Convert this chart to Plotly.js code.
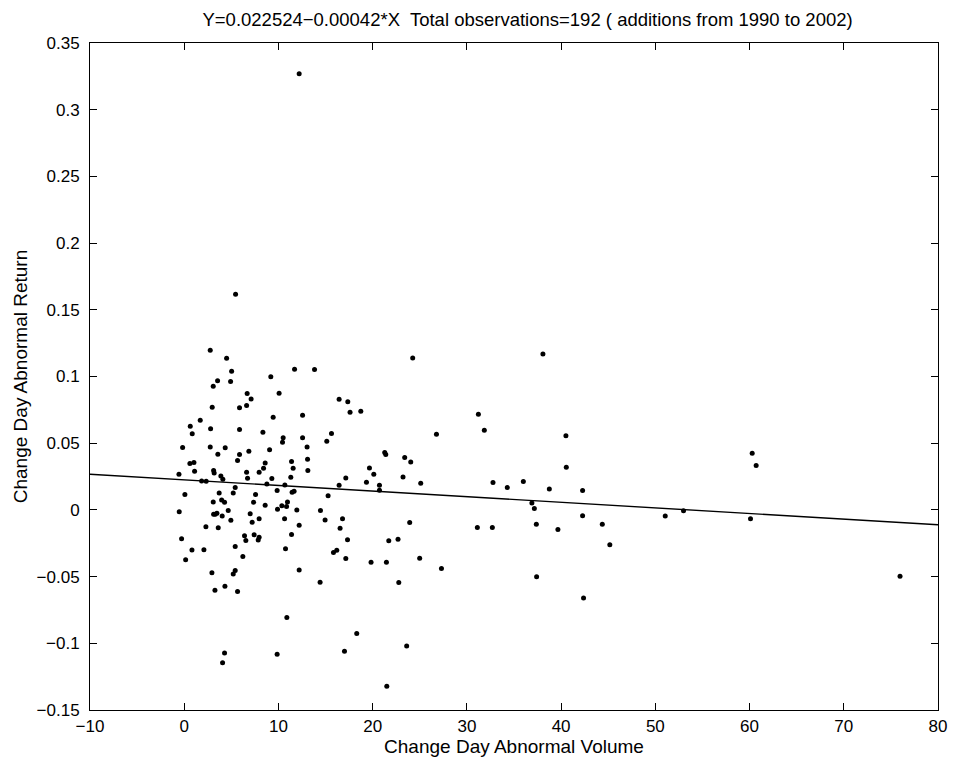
<!DOCTYPE html>
<html>
<head>
<meta charset="utf-8">
<script src="https://cdn.plot.ly/plotly-3.0.1.min.js"></script>
<style>html,body{margin:0;padding:0;background:#fff;}#chart{width:955px;height:765px;}</style>
</head>
<body>
<div id="chart"></div>
<script>
// Change Day Abnormal Volume (x) and Change Day Abnormal Return (y)
const volume = [
 5.45,2.76,4.50,5.03,3.54,4.92,3.08,9.19,6.68,7.10,10.07,2.97,5.87,6.62,
 9.44,1.70,0.64,0.85,2.80,5.87,8.35,-0.17,2.76,4.35,3.57,6.86,9.06,5.87,5.66,0.60,
 1.03,8.59,8.42,1.10,3.12,3.18,-0.56,6.62,7.95,3.89,4.10,6.72,9.30,1.85,2.33,8.77,
 5.41,9.86,0.07,3.71,5.20,7.57,3.97,4.28,3.08,7.36,8.59,-0.53,4.67,3.29,3.12,3.47,
 4.03,7.00,9.90,7.95,4.95,7.21,2.30,3.61,
 -0.28,0.82,2.09,0.15,5.41,6.40,6.54,7.42,7.95,7.85,6.22,2.94,5.20,5.41,4.32,3.26,
 5.66,4.28,4.07,9.86,
 11.71,13.83,16.44,17.36,
 12.56,17.60,18.74,10.50,10.43,12.56,15.63,15.13,13.04,21.28,21.39,11.39,13.09,11.56,
 13.12,19.66,20.12,11.31,17.15,19.34,10.68,16.44,20.72,20.72,11.45,11.66,15.27,10.96,
 10.36,10.86,11.95,14.46,10.65,14.95,16.80,12.20,16.54,
 11.39,17.33,21.71,22.69,10.75,15.84,16.19,17.15,19.83,21.46,12.20,14.42,22.77,10.89,
 18.31,17.01,21.50,
 24.25,38.07,31.22,31.85,26.77,40.51,40.55,23.40,24.04,23.22,25.10,32.77,34.29,35.99,
 38.75,42.28,36.90,37.16,42.28,23.93,31.11,32.70,37.37,39.66,44.37,45.17,24.99,27.30,
 37.40,23.61,42.38,
 60.28,60.70,51.05,52.99,60.10,75.97,
 12.2
];
const abnReturn = [
 0.1617,0.1197,0.1137,0.1040,0.0969,0.0962,0.0927,0.0999,0.0872,0.0832,0.0875,0.0770,0.0765,0.0782,
 0.0695,0.0672,0.0627,0.0570,0.0609,0.0602,0.0582,0.0467,0.0472,0.0465,0.0418,0.0440,0.0450,0.0415,0.0370,0.0347,
 0.0355,0.0352,0.0313,0.0290,0.0295,0.0277,0.0268,0.0283,0.0283,0.0255,0.0230,0.0238,0.0235,0.0217,0.0215,0.0195,
 0.0167,0.0145,0.0115,0.0127,0.0127,0.0115,0.0075,0.0058,0.0060,0.0058,0.0035,-0.0013,-0.0005,-0.0032,-0.0032,-0.0025,
 -0.0045,-0.0028,0.0005,-0.0067,-0.0077,-0.0092,-0.0127,-0.0133,
 -0.0217,-0.0300,-0.0298,-0.0373,-0.0275,-0.0193,-0.0230,-0.0187,-0.0205,-0.0225,-0.0350,-0.0472,-0.0480,-0.0455,-0.0572,-0.0602,
 -0.0612,-0.1072,-0.1145,-0.1082,
 0.1055,0.1052,0.0830,0.0810,
 0.0710,0.0732,0.0740,0.0540,0.0507,0.0540,0.0572,0.0515,0.0472,0.0430,0.0415,0.0362,0.0380,0.0313,
 0.0295,0.0315,0.0268,0.0245,0.0240,0.0208,0.0187,0.0185,0.0185,0.0148,0.0133,0.0140,0.0107,0.0060,
 0.0032,0.0025,0.0000,-0.0005,-0.0067,-0.0075,-0.0067,-0.0115,-0.0137,
 -0.0185,-0.0223,-0.0232,-0.0220,-0.0292,-0.0320,-0.0302,-0.0365,-0.0392,-0.0392,-0.0450,-0.0542,-0.0545,-0.0807,
 -0.0927,-0.1059,-0.1322,
 0.1139,0.1169,0.0717,0.0597,0.0567,0.0555,0.0320,0.0392,0.0360,0.0247,0.0200,0.0205,0.0167,0.0212,
 0.0157,0.0145,0.0052,0.0010,-0.0043,-0.0095,-0.0132,-0.0132,-0.0107,-0.0147,-0.0107,-0.0262,-0.0362,-0.0440,
 -0.0502,-0.1020,-0.0660,
 0.0425,0.0332,-0.0045,-0.0007,-0.0067,-0.0497,
 0.3270
];
// Fitted line end points as drawn
const fitX = [-10, 80];
const fitY = [0.0267, -0.0111];

const titleText = 'Y=0.022524\u22120.00042*X  Total observations=192 ( additions from 1990 to 2002)';
const xTitle = 'Change Day Abnormal Volume';
const yTitle = 'Change Day Abnormal Return';
const xTicks = [-10,0,10,20,30,40,50,60,70,80];
const yTicks = [-0.15,-0.1,-0.05,0,0.05,0.1,0.15,0.2,0.25,0.3,0.35];
const yTickText = ['\u22120.15','\u22120.1','\u22120.05','0','0.05','0.1','0.15','0.2','0.25','0.3','0.35'];
const xTickText = ['\u221210','0','10','20','30','40','50','60','70','80'];

const font = 'Liberation Sans, Arial, sans-serif';

const traces = [
  {x: volume, y: abnReturn, mode: 'markers', type: 'scatter',
   marker: {color: '#000', size: 5}, hoverinfo: 'x+y', showlegend: false},
  {x: fitX, y: fitY, mode: 'lines', type: 'scatter',
   line: {color: '#000', width: 1.4}, showlegend: false}
];

const axisCommon = {
  showgrid: false, zeroline: false, showline: true, linecolor: '#000', linewidth: 1,
  mirror: 'ticks', ticks: 'inside', ticklen: 7, tickcolor: '#000', tickwidth: 1,
  tickfont: {family: font, size: 17, color: '#000'}
};

const layout = {
  width: 955, height: 765,
  paper_bgcolor: '#fff', plot_bgcolor: '#fff',
  margin: {l: 90, r: 17, t: 43, b: 55},
  title: {text: titleText, font: {family: font, size: 18.5, color: '#000'},
          x: 0.516, xref: 'paper', y: 0.974, yref: 'container', xanchor: 'center', yanchor: 'middle'},
  xaxis: Object.assign({}, axisCommon, {
    range: [-10, 80], tickvals: xTicks, ticktext: xTickText, ticklabelstandoff: 1,
    title: {text: xTitle, font: {family: font, size: 19, color: '#000'}, standoff: 2}
  }),
  yaxis: Object.assign({}, axisCommon, {
    range: [-0.15, 0.35], tickvals: yTicks, ticktext: yTickText, ticklabelstandoff: 6,
    title: {text: yTitle, font: {family: font, size: 19, color: '#000'}, standoff: 3}
  })
};

Plotly.newPlot('chart', traces, layout, {displayModeBar: false, staticPlot: true});
</script>
</body>
</html>
